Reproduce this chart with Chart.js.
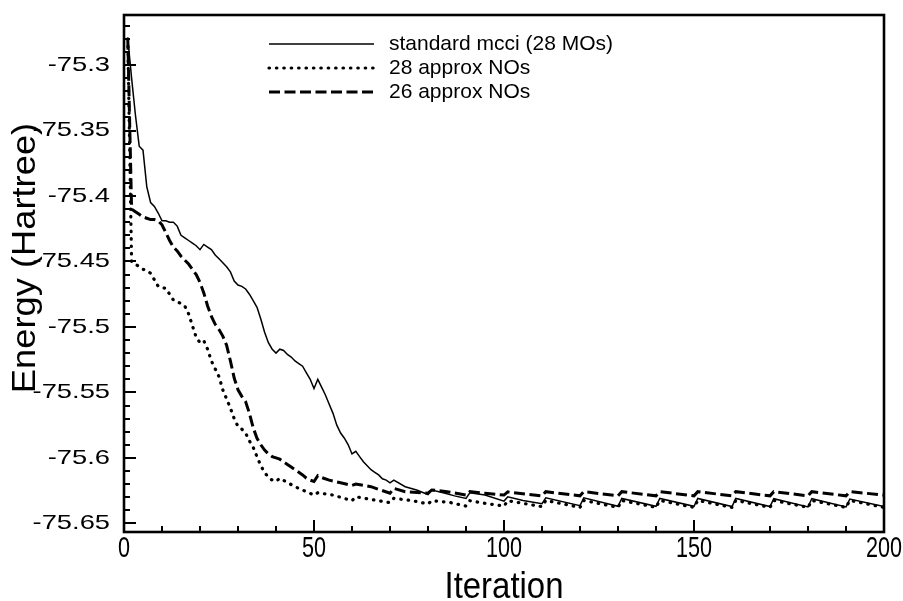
<!DOCTYPE html>
<html><head><meta charset="utf-8">
<script src="https://cdn.jsdelivr.net/npm/chart.js@4"></script>
<style>html,body{margin:0;padding:0;background:#fff;}canvas{display:block}</style>
</head><body>
<canvas id="c" width="903" height="601"></canvas>
<script>
// ---- data ----
const seriesLabels = ['standard mcci (28 MOs)', '28 approx NOs', '26 approx NOs'];

const stdIter = [1,2,3,4,5,6,7,8,9,10,11,12,13,14,15,16,17,18,19,20,21,22,23,24,25,26,27,28,29,30,31,32,33,34,35,36,37,38,39,40,41,42,43,44,45,46,47,48,49,50,51,52,53,54,55,56,57,58,59,60,61,62,63,64,65,66,67,68,69,70,71,74,77,80,81,84,87,90,91,95,100,101,105,110,111,120,121,130,131,140,141,150,151,160,161,170,171,180,181,190,191,200];
const stdEnergy = [-75.280,-75.310,-75.338,-75.362,-75.365,-75.393,-75.405,-75.408,-75.413,-75.419,-75.419,-75.420,-75.420,-75.423,-75.430,-75.432,-75.434,-75.436,-75.438,-75.441,-75.437,-75.439,-75.441,-75.445,-75.448,-75.451,-75.454,-75.458,-75.465,-75.468,-75.469,-75.471,-75.475,-75.480,-75.485,-75.494,-75.504,-75.512,-75.517,-75.520,-75.517,-75.518,-75.521,-75.523,-75.526,-75.528,-75.530,-75.535,-75.540,-75.547,-75.540,-75.546,-75.552,-75.559,-75.566,-75.575,-75.581,-75.585,-75.590,-75.597,-75.595,-75.599,-75.603,-75.606,-75.609,-75.611,-75.613,-75.616,-75.617,-75.619,-75.617,-75.622,-75.6245,-75.628,-75.6245,-75.6266,-75.629,-75.631,-75.6266,-75.6284,-75.633,-75.6297,-75.6325,-75.635,-75.6305,-75.6365,-75.6305,-75.637,-75.631,-75.637,-75.631,-75.637,-75.631,-75.6372,-75.631,-75.6372,-75.6312,-75.6375,-75.6312,-75.6375,-75.6315,-75.6372];

const no28Iter = [1,2,3,4,5,6,7,8,9,10,11,12,13,14,15,16,17,18,19,20,21,22,23,24,25,26,27,28,29,30,31,32,33,34,35,36,37,38,39,40,41,45,50,51,55,60,61,66,70,71,76,80,81,86,90,91,95,100,101,106,110,111,120,121,130,131,140,141,150,151,160,161,170,171,180,181,190,191,200];
const no28Energy = [-75.280,-75.450,-75.452,-75.454,-75.456,-75.457,-75.459,-75.464,-75.469,-75.470,-75.4705,-75.475,-75.4795,-75.481,-75.482,-75.484,-75.490,-75.499,-75.508,-75.512,-75.5105,-75.517,-75.526,-75.532,-75.538,-75.548,-75.555,-75.562,-75.570,-75.576,-75.578,-75.581,-75.587,-75.592,-75.599,-75.606,-75.611,-75.615,-75.617,-75.618,-75.6156,-75.622,-75.6284,-75.6266,-75.6284,-75.6327,-75.6297,-75.6322,-75.6342,-75.6309,-75.6327,-75.6352,-75.6327,-75.6342,-75.6368,-75.6327,-75.6347,-75.6368,-75.6327,-75.6352,-75.6372,-75.6325,-75.6378,-75.6325,-75.6378,-75.6325,-75.6378,-75.6325,-75.6378,-75.6325,-75.6378,-75.6325,-75.6378,-75.6325,-75.6378,-75.6325,-75.6378,-75.6325,-75.6378];

const no26Iter = [1,2,3,4,5,6,7,8,9,10,11,12,13,14,15,16,17,18,19,20,21,22,23,24,25,26,27,28,29,30,31,32,33,34,35,36,37,38,39,40,41,42,43,44,45,46,47,48,49,50,51,52,54,57,60,61,65,70,71,74,80,81,85,90,91,95,100,101,110,111,120,121,130,131,140,141,150,151,160,161,170,171,180,181,190,191,200];
const no26Energy = [-75.280,-75.410,-75.412,-75.414,-75.416,-75.417,-75.418,-75.418,-75.419,-75.422,-75.428,-75.434,-75.439,-75.442,-75.446,-75.449,-75.452,-75.456,-75.460,-75.466,-75.474,-75.484,-75.492,-75.498,-75.502,-75.507,-75.514,-75.526,-75.539,-75.548,-75.553,-75.557,-75.566,-75.577,-75.585,-75.590,-75.594,-75.597,-75.599,-75.600,-75.601,-75.603,-75.605,-75.607,-75.609,-75.611,-75.613,-75.6155,-75.617,-75.618,-75.6136,-75.615,-75.617,-75.619,-75.621,-75.620,-75.622,-75.627,-75.6233,-75.6258,-75.627,-75.6245,-75.6258,-75.6284,-75.6258,-75.627,-75.6284,-75.626,-75.629,-75.6258,-75.629,-75.6258,-75.629,-75.6258,-75.629,-75.6258,-75.629,-75.6258,-75.629,-75.6258,-75.629,-75.6258,-75.629,-75.6258,-75.629,-75.6258,-75.6284];

const xTickValues = [0, 50, 100, 150, 200];
const xTickLabels = ['0', '50', '100', '150', '200'];
const yTickValues = [-75.65, -75.6, -75.55, -75.5, -75.45, -75.4, -75.35, -75.3];
const yTickLabels = ['-75.65', '-75.6', '-75.55', '-75.5', '-75.45', '-75.4', '-75.35', '-75.3'];
const xTitle = 'Iteration';
const yTitle = 'Energy (Hartree)';

// ---- chart ----
const FONT = "'Liberation Sans', Arial, Helvetica, sans-serif";
const toPts = (xs, ys) => xs.map((x, i) => ({x: x, y: ys[i]}));

// text drawn with the same (slightly stretched) proportions as the reference figure
function stretchedText(ctx, text, x, y, size, sx, sy, align, baseline, rot) {
  ctx.save();
  ctx.translate(x, y);
  if (rot) ctx.rotate(rot);
  ctx.scale(sx, sy);
  ctx.font = size + 'px ' + FONT;
  ctx.fillStyle = '#000';
  ctx.textAlign = align;
  ctx.textBaseline = baseline;
  ctx.fillText(text, 0, 0);
  ctx.restore();
}

const framePlugin = {
  id: 'frame',
  afterDatasetsDraw(chart) {
    const {ctx, chartArea: a, scales: {x, y}} = chart;
    ctx.save();
    ctx.strokeStyle = '#000';
    ctx.lineCap = 'butt';
    ctx.lineWidth = 2;
    // x ticks (inward)
    for (let v = x.min; v <= x.max + 1e-9; v += 10) {
      const px = Math.round(x.getPixelForValue(v));
      const len = (Math.abs(v % 50) < 1e-9) ? 12 : 6;
      ctx.beginPath(); ctx.moveTo(px, a.bottom); ctx.lineTo(px, a.bottom - len); ctx.stroke();
    }
    // y ticks (inward)
    for (let k = 0; k <= 40; k++) {
      const v = -75.65 + k * 0.01;
      if (v > y.max) break;
      const py = Math.round(y.getPixelForValue(v));
      const len = (k % 5 === 0) ? 12 : 6;
      ctx.beginPath(); ctx.moveTo(a.left, py); ctx.lineTo(a.left + len, py); ctx.stroke();
    }
    ctx.lineWidth = 2.6;
    ctx.strokeRect(a.left, a.top, a.right - a.left, a.bottom - a.top);

    // axis titles
    stretchedText(ctx, xTitle, (a.left + a.right) / 2, 598, 37, 0.89, 1, 'center', 'alphabetic');
    stretchedText(ctx, yTitle, 35, 258, 33, 1.1, 1, 'center', 'alphabetic', -Math.PI / 2);
    // tick labels, placed from the scales
    xTickValues.forEach((v, i) => {
      stretchedText(ctx, xTickLabels[i], x.getPixelForValue(v), a.bottom + 17, 30, 0.72, 1, 'center', 'middle');
    });
    yTickValues.forEach((v, i) => {
      stretchedText(ctx, yTickLabels[i], a.left - 14, y.getPixelForValue(v), 21, 1.3, 1, 'right', 'middle');
    });

    // legend
    const rows = [44, 68, 92];
    chart.data.datasets.forEach((ds, i) => {
      const yy = rows[i];
      ctx.save();
      ctx.lineWidth = ds.borderWidth;
      ctx.lineCap = ds.borderCapStyle || 'butt';
      ctx.setLineDash(ds.borderDash || []);
      ctx.beginPath(); ctx.moveTo(269, yy); ctx.lineTo(374, yy); ctx.stroke();
      ctx.restore();
      stretchedText(ctx, ds.label, 389, yy, 21, 1, 1, 'left', 'middle');
    });
    ctx.restore();
  }
};

new Chart(document.getElementById('c'), {
  type: 'line',
  data: {
    datasets: [
      {label: seriesLabels[0], data: toPts(stdIter, stdEnergy), borderColor: '#000', borderWidth: 1.5, pointRadius: 0, tension: 0, fill: false},
      {label: seriesLabels[1], data: toPts(no28Iter, no28Energy), borderColor: '#000', borderWidth: 3.2, borderDash: [0.5, 6.9], borderCapStyle: 'round', pointRadius: 0, tension: 0, fill: false},
      {label: seriesLabels[2], data: toPts(no26Iter, no26Energy), borderColor: '#000', borderWidth: 3, borderDash: [11, 4.5], pointRadius: 0, tension: 0, fill: false}
    ]
  },
  options: {
    responsive: false,
    animation: false,
    devicePixelRatio: 1,
    layout: {padding: {left: 0, right: 19, top: 15, bottom: 0}},
    plugins: {legend: {display: false}, tooltip: {enabled: false}},
    scales: {
      x: {
        type: 'linear', min: 0, max: 200,
        grid: {display: false, drawTicks: false},
        border: {display: false},
        afterBuildTicks: s => { s.ticks = xTickValues.map(v => ({value: v})); },
        afterFit: s => { s.height = 69; },
        ticks: {display: false},
        title: {display: false, text: xTitle}
      },
      y: {
        type: 'linear', min: -75.6566, max: -75.2618,
        grid: {display: false, drawTicks: false},
        border: {display: false},
        afterBuildTicks: s => { s.ticks = yTickValues.map(v => ({value: v})); },
        afterFit: s => { s.width = 124; },
        ticks: {display: false},
        title: {display: false, text: yTitle}
      }
    }
  },
  plugins: [framePlugin]
});
</script>
</body></html>
